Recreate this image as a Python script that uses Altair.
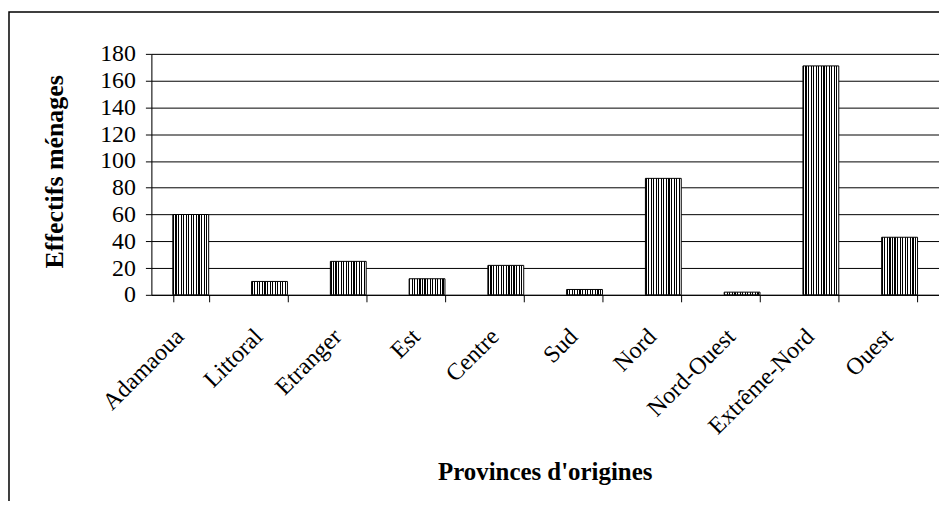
import altair as alt
import pandas as pd

provinces = ["Adamaoua", "Littoral", "Etranger", "Est", "Centre", "Sud", "Nord",
             "Nord-Ouest", "Extrême-Nord", "Ouest"]
effectifs = [60, 10, 25, 12, 22, 4, 87, 2, 171, 43]
y_ticks = [0, 20, 40, 60, 80, 100, 120, 140, 160, 180]

df = pd.DataFrame({"province": provinces, "effectif": effectifs})

# vertical stripe pattern (black / white) as a sharp linear gradient
stops = []
n_stripes = 14
for i in range(n_stripes):
    a = i / n_stripes
    b = (i + 0.45) / n_stripes
    c = (i + 1) / n_stripes
    stops += [alt.GradientStop(offset=a, color="#000000"),
              alt.GradientStop(offset=b, color="#000000"),
              alt.GradientStop(offset=b, color="#ffffff"),
              alt.GradientStop(offset=c, color="#ffffff")]
stripe = alt.LinearGradient(gradient="linear", stops=stops, x1=0, x2=1, y1=0, y2=0)

FONT = "Liberation Serif"

x_enc = alt.X("province:N", sort=provinces,
              scale=alt.Scale(paddingInner=0.545, paddingOuter=0.2725),
              axis=alt.Axis(title="Provinces d'origines", labelAngle=-45,
                            labelAlign="right", labelBaseline="middle",
                            labelFont=FONT, labelFontSize=24, labelColor="#000",
                            labelPadding=31, labelOffset=-11,
                            tickBand="extent", tickSize=7, tickColor="#000",
                            domainColor="#000", titleFont=FONT, titleFontSize=25,
                            titleFontWeight="bold", titleColor="#000",
                            titleX=395, titleY=185, titleBaseline="alphabetic",
                            titleAnchor="middle", grid=False))

y_enc = alt.Y("effectif:Q",
              scale=alt.Scale(domain=[0, 180], nice=False),
              axis=alt.Axis(title="Effectifs ménages", values=y_ticks,
                            labelFont=FONT, labelFontSize=24, labelColor="#000",
                            labelPadding=10, tickSize=6, tickColor="#000",
                            domainColor="#000", gridColor="#000", gridWidth=1,
                            titleFont=FONT, titleFontSize=26, titleFontWeight="bold",
                            titleColor="#000", titleAngle=-90, titleX=-89, titleY=118,
                            titleBaseline="alphabetic", titleAnchor="middle"))

bars = alt.Chart(df).mark_bar(fill=stripe, stroke="#000", strokeWidth=1).encode(
    x=x_enc, y=y_enc)

frame_df = pd.DataFrame({"k": [0]})
frame = alt.Chart(frame_df).mark_rect(fill="transparent", stroke="#000",
                                      strokeWidth=1.5).encode(
    x=alt.value(-143), x2=alt.value(800), y=alt.value(-42), y2=alt.value(470))

chart = alt.layer(frame, bars).properties(
    width=791, height=242,
    autosize=alt.AutoSizeParams(type="none"),
    padding={"left": 144, "top": 45, "right": 0, "bottom": 206},
).configure_view(stroke="#888888", strokeWidth=1.5).configure(background="white")

chart.save("out.html", embed_options={"renderer": "svg", "actions": False})
